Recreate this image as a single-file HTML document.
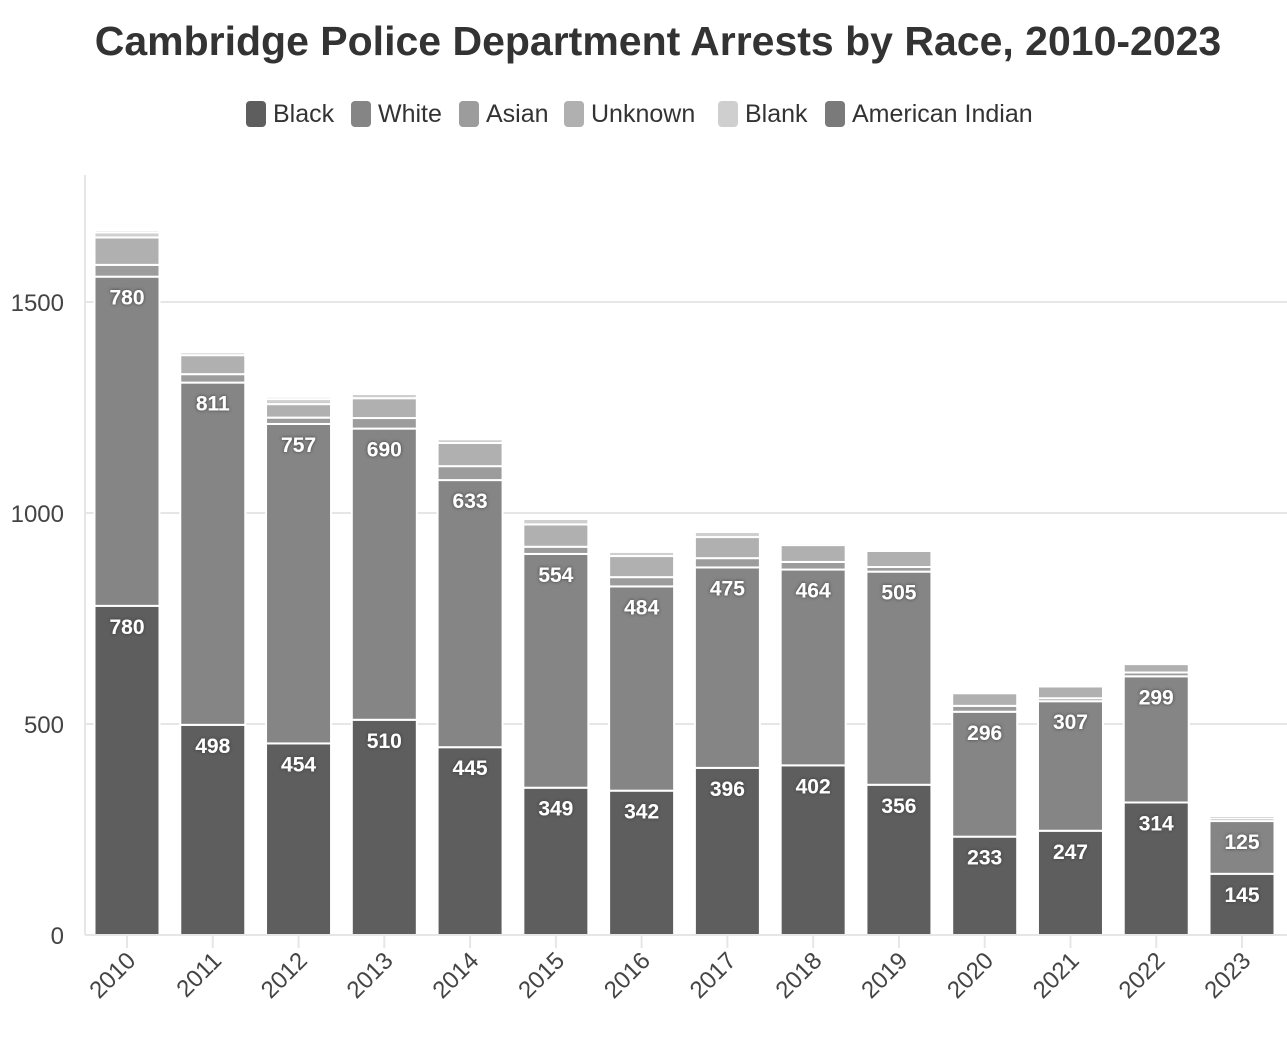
<!DOCTYPE html>
<html><head><meta charset="utf-8"><style>
body{margin:0;background:#fff;width:1287px;height:1036px;overflow:hidden;font-family:"Liberation Sans",sans-serif}
</style></head><body>
<svg id="chart" width="1287" height="1036" xmlns="http://www.w3.org/2000/svg">
<defs><filter id="sh" x="-20%" y="-20%" width="140%" height="140%"><feDropShadow dx="0" dy="0" stdDeviation="1.6" flood-color="#333" flood-opacity="0.9"/></filter></defs>
<text x="658" y="55" text-anchor="middle" font-size="41" font-weight="bold" fill="#333">Cambridge Police Department Arrests by Race, 2010-2023</text>
<g id="legend"></g>
<g id="grid"></g><g id="bars"></g><g id="labels"></g><g id="axes"></g>
</svg>
<script>
const years=['2010','2011','2012','2013','2014','2015','2016','2017','2018','2019','2020','2021','2022','2023'];
const black=[780,498,454,510,445,349,342,396,402,356,233,247,314,145];
const white=[780,811,757,690,633,554,484,475,464,505,296,307,299,125];
const asian=[28,20,15,25,33,17,22,22,18,11,14,7,9,6];
const unknown=[65,45,32,47,55,53,50,50,40,38,30,28,20,6];
const blank=[12,7,12,10,9,13,10,12,5,5,3,5,4,3];
const amind=[5,4,5,3,3,4,4,3,3,2,1,3,2,1];
const yTicks=[0,500,1000,1500];
const seriesNames=['Black','White','Asian','Unknown','Blank','American Indian'];
const seriesData=[black,white,asian,unknown,blank,amind];
const colors=['#5e5e5e','#858585','#9c9c9c','#b0b0b0','#cfcfcf','#7a7a7a'];
const NS='http://www.w3.org/2000/svg';
const y0=935,k=0.422,x0=127,step=85.77,bw=65;
const Y=v=>y0-v*k, X=i=>x0+i*step;
function mk(t,a,p){const e=document.createElementNS(NS,t);for(const n in a)e.setAttribute(n,a[n]);document.getElementById(p).appendChild(e);return e;}
const lx=[246,351,459,564,718,825];
seriesNames.forEach((n,i)=>{
 const r=mk('rect',{x:lx[i],y:101,width:20,height:26,rx:4,fill:colors[i]},'legend');
 
 
 const t=mk('text',{x:lx[i]+27,y:122,'font-size':25,fill:'#333'},'legend');t.textContent=n;
 
 
});
yTicks.forEach(v=>{
 if(v>0){const g=mk('line',{x1:85,x2:1287,y1:Y(v),y2:Y(v),stroke:'#e6e6e6','stroke-width':2},'grid');
 }
 const t=mk('text',{x:64,y:Y(v)+9,'text-anchor':'end','font-size':24,fill:'#444'},'axes');t.textContent=v;
 
});
const ax=mk('line',{x1:85,x2:85,y1:175,y2:935,stroke:'#e6e6e6','stroke-width':2},'axes');

const bx=mk('line',{x1:85,x2:1287,y1:935,y2:935,stroke:'#e6e6e6','stroke-width':2},'axes');

years.forEach((yr,i)=>{
 let base=0;
 seriesData.forEach((s,j)=>{
  const v=s[i];
  const r=mk('rect',{x:X(i)-bw/2,y:Y(base+v),width:bw,height:v*k,fill:colors[j],stroke:'#fff','stroke-width':2},'bars');
  
  
  if(j<2){const t=mk('text',{x:X(i),y:Y(base+v)+28,'text-anchor':'middle','font-size':21,'font-weight':'bold',fill:'#fff',filter:'url(#sh)'},'labels');
   t.textContent=v;}
  base+=v;
 });
 const tk=mk('line',{x1:X(i),x2:X(i),y1:935,y2:948,stroke:'#e6e6e6','stroke-width':2},'axes');
 
 const t=mk('text',{x:X(i)+10,y:962,'text-anchor':'end','font-size':24,fill:'#444',transform:`rotate(-45 ${X(i)+10} 962)`},'axes');
 t.textContent=yr;
});
</script>
</body></html>
